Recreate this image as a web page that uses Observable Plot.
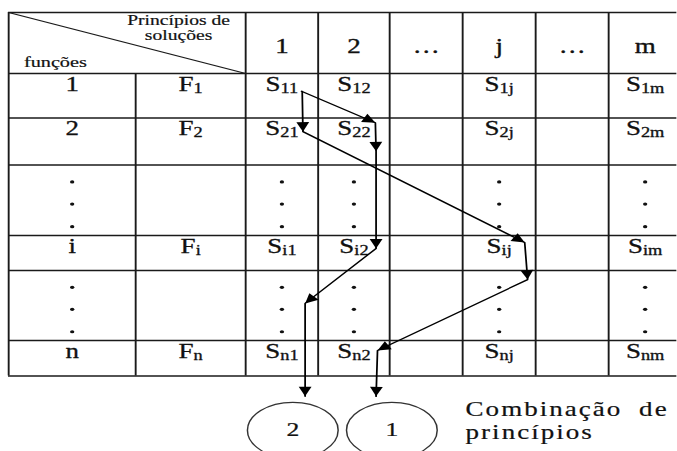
<!DOCTYPE html>
<html>
<head>
<meta charset="utf-8">
<script src="https://cdn.jsdelivr.net/npm/d3@7"></script>
<script src="https://cdn.jsdelivr.net/npm/@observablehq/plot@0.6"></script>
<style>
  html, body { margin: 0; padding: 0; overflow: hidden; background: #fff; }
  #chart { width: 502px; transform: scaleX(1.35); transform-origin: 0 0; }
</style>
</head>
<body>
<div id="chart"></div>
<script>
// ---------------- data ----------------
const solutionLabels = ["1", "2", "…", "j", "…", "m"];          // column headers (principles of solution)
const functionIndex  = ["1", "2", "…", "i", "…", "n"];          // row numbers ("…" = ellipsis row)
const functionLabels = ["F_1", "F_2", "", "F_i", "", "F_n"];    // functions
const headerTop  = "Princípios de\nsoluções";
const headerLeft = "funções";
const captionText = "Combinação de\nprincípios";
const combinationLabels = ["2", "1"];
// arrow paths through the matrix, in (column, row) grid units
const combinationPaths = [
  [[2.77, 1.40], [3.80, 2.10], [3.81, 2.71], [3.81, 4.37], [2.82, 5.47], [2.82, 7.27]],
  [[2.78, 1.40], [2.79, 2.29], [5.85, 4.20], [5.89, 5.13], [3.83, 6.28], [3.81, 7.27]]
];
const combinationCircles = [[2.65, 7.72], [4.03, 7.72]];
const ellipsisDots = [0.24, 0.555, 0.875];

// ---------------- layout ----------------
const STRETCH = 1.35;
const WIDTH = 677, HEIGHT = 451;
const colEdges = [8, 135, 245, 317.5, 389, 462, 535, 608, 681];
const rowEdges = [12, 73, 117.5, 164.5, 235, 270, 340, 375.5, 451];
const colDomain = d3.range(colEdges.length);
const rowDomain = d3.range(rowEdges.length);
const colRange = colEdges.map(v => v / STRETCH);
const sx = d3.scaleLinear(colDomain, colRange);
const sy = d3.scaleLinear(rowDomain, rowEdges);

// ---------------- derived tables ----------------
const cellTexts = [];
const dotCells = [];
const solutionCols = solutionLabels.map((s, j) => (s === "…" ? null : 2 + j)).filter(v => v != null);
functionIndex.forEach((fi, k) => {
  const row = k + 1;
  if (fi === "…") {
    [0, ...solutionCols].forEach(c => ellipsisDots.forEach(f => dotCells.push({x: c + 0.5, y: row + f})));
  } else {
    cellTexts.push({x: 0.5, y: row, text: fi});
    cellTexts.push({x: 1.5, y: row, text: functionLabels[k]});
    solutionLabels.forEach((s, j) => {
      if (s !== "…") cellTexts.push({x: 2 + j + 0.5, y: row, text: `S_${fi}${s}`});
    });
  }
});
const vLines = d3.range(0, 8).map(i => ({x: i, y1: i === 1 ? 1 : 0, y2: 7}));
const hLines = d3.range(0, 8);
const arrowPts = combinationPaths.flatMap((p, ci) => p.map(([x, y]) => ({x, y, combo: combinationLabels[ci]})));
const heads = combinationPaths.flatMap(p => p.slice(1).map((t, i) => {
  const s = p[i];
  const dx = sx(t[0]) - sx(s[0]), dy = sy(t[1]) - sy(s[1]);
  return {x: t[0], y: t[1], angle: Math.atan2(-dx, dy) * 180 / Math.PI};
}));
const circles = combinationCircles.map(([x, y], i) => ({x, y, label: combinationLabels[i]}));

// ---------------- custom symbols ----------------
const arrowHead = {
  draw(ctx, size) {
    const r = Math.sqrt(size / Math.PI);
    ctx.moveTo(0, 0); ctx.lineTo(-0.5 * r, -r); ctx.lineTo(0.5 * r, -r); ctx.closePath();
  }
};
const ellipse = {
  draw(ctx, size) {
    const ry = Math.sqrt(size / Math.PI), rx = ry * 1.2, k = 0.5523;
    ctx.moveTo(rx, 0);
    ctx.bezierCurveTo(rx, ry * k, rx * k, ry, 0, ry);
    ctx.bezierCurveTo(-rx * k, ry, -rx, ry * k, -rx, 0);
    ctx.bezierCurveTo(-rx, -ry * k, -rx * k, -ry, 0, -ry);
    ctx.bezierCurveTo(rx * k, -ry, rx, -ry * k, rx, 0);
    ctx.closePath();
  }
};

const INK = "#111";
const LINE = "#1a1a1a";
const bold = w => ({fill: INK, stroke: INK, strokeWidth: w});

const plot = Plot.plot({
  width: WIDTH / STRETCH,
  height: HEIGHT,
  margin: 0,
  x: {type: "linear", domain: colDomain, range: colRange, axis: null},
  y: {type: "linear", domain: rowDomain, range: rowEdges, axis: null},
  style: {fontFamily: "'Liberation Serif', 'Times New Roman', serif", color: INK, background: "white"},
  marks: [
    Plot.ruleY(hLines, {y: d => d, x1: 0, x2: 8, stroke: LINE, strokeWidth: 1.4}),
    Plot.ruleX(vLines, {x: "x", y1: "y1", y2: "y2", stroke: LINE, strokeWidth: 1.4}),
    Plot.link([0], {x1: 0, y1: 0, x2: 2, y2: 1, stroke: LINE, strokeWidth: 1.2}),
    Plot.text([headerTop], {x: 1.39, y: 0.04, text: d => d, lineAnchor: "top", fontSize: 14.5, lineHeight: 1.0, ...bold(0.2)}),
    Plot.text([headerLeft], {x: 0.12, y: 1, dy: -6, text: d => d, textAnchor: "start", lineAnchor: "bottom", fontSize: 15, ...bold(0.2)}),
    Plot.text(solutionLabels, {x: (d, i) => 2.5 + i, y: 0.56, text: d => d, lineAnchor: "middle", fontSize: 20, ...bold(0.35)}),
    Plot.text(cellTexts, {x: "x", y: "y", text: "text", dy: 3, lineAnchor: "top", fontSize: 20, ...bold(0.3)}),
    Plot.dot(dotCells, {x: "x", y: "y", r: 1.6, fill: INK, stroke: null}),
    Plot.line(arrowPts, {x: "x", y: "y", z: "combo", stroke: "#000", strokeWidth: 1.3}),
    Plot.dot(heads, {x: "x", y: "y", rotate: "angle", symbol: arrowHead, r: 9.5, fill: "#000", stroke: null}),
    Plot.dot(circles, {x: "x", y: "y", symbol: ellipse, r: 28, fill: "none", stroke: "#333", strokeWidth: 1.1}),
    Plot.text(circles, {x: "x", y: "y", text: "label", lineAnchor: "middle", fontSize: 19, ...bold(0.25)}),
    Plot.text([captionText], {x: 5.04, y: 7.32, text: d => d, textAnchor: "start", lineAnchor: "top", fontSize: 20, lineHeight: 1.13, ...bold(0.2)})
  ]
});

// subscripts: "S_11" -> S + smaller, slightly lowered "11"; caption spacing
plot.querySelectorAll("text").forEach(t => {
  if (t.children.length === 0) {
    const m = t.textContent.match(/^([^_]+)_(.+)$/);
    if (m) {
      t.textContent = m[1];
      const ts = document.createElementNS("http://www.w3.org/2000/svg", "tspan");
      ts.setAttribute("font-size", "0.68em");
      ts.setAttribute("dy", "0.15em");
      ts.textContent = m[2];
      t.appendChild(ts);
    }
  }
  if (t.textContent.startsWith("Combinação")) {
    t.setAttribute("letter-spacing", "1.5");
    t.setAttribute("word-spacing", "6");
  }
});

document.getElementById("chart").appendChild(plot);
</script>
</body>
</html>
